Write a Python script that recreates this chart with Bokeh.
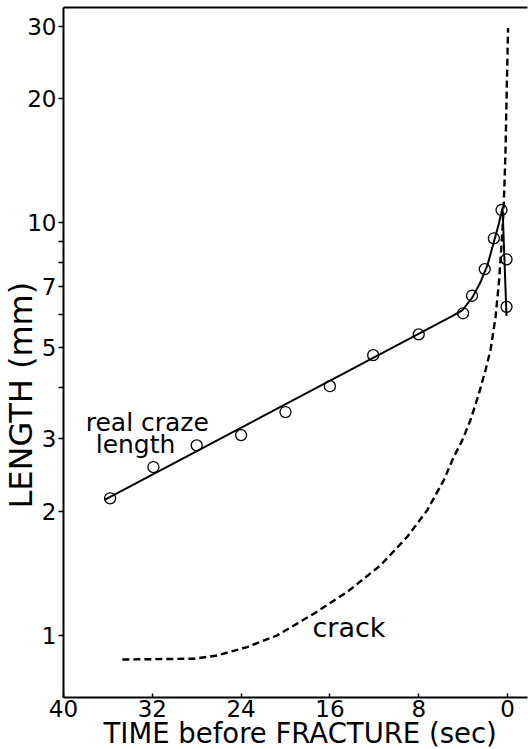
from bokeh.plotting import figure
from bokeh.models import Range1d, FixedTicker, LinearAxis, Label, Title
from bokeh.embed import file_html
from bokeh.resources import INLINE

# ---- data ----
time_pts = [35.8, 31.9, 28.0, 24.0, 20.0, 16.0, 12.1, 8.0, 4.0, 3.2, 2.05, 1.23, 0.54, 0.09, 0.09]
len_pts = [2.15, 2.56, 2.89, 3.06, 3.48, 4.02, 4.78, 5.37, 6.04, 6.66, 7.73, 9.18, 10.75, 8.16, 6.26]

fit_time = [36.3, 4.95, 4.05, 3.15, 2.43, 1.80, 1.26, 0.81, 0.45, 0.09]
fit_len = [2.13, 5.95, 6.15, 6.61, 7.19, 7.91, 8.94, 9.89, 10.9, 5.95]

crack_time = [34.7, 28.26, 26.15, 23.45, 20.75, 17.45, 14.44, 11.44, 9.04, 7.24, 5.74, 4.84,
              4.08, 3.33, 2.61, 1.98, 1.53, 1.08, 0.78, 0.57, 0.39, 0.27, 0.18, 0.09, -0.05]
crack_len = [0.874, 0.878, 0.894, 0.937, 1.0, 1.129, 1.274, 1.479, 1.733, 2.01, 2.38, 2.71,
             2.97, 3.33, 3.83, 4.40, 4.92, 5.91, 7.15, 8.60, 10.34, 12.5, 15.0, 19.9, 29.7]

x_ticks = [40, 32, 24, 16, 8, 0]
y_ticks = [1, 2, 3, 4, 5, 6, 7, 8, 9, 10, 20, 30]
y_tick_labels = {4: "", 6: "", 8: "", 9: ""}

ann_text = ["real craze", "length", "crack"]
ann_x = [38.0, 37.1, 17.57]
ann_y = [3.29, 2.90, 1.045]
ann_size = ["25px", "25px", "27px"]

x_title = "TIME  before FRACTURE (sec)"
y_title = "LENGTH (mm)"

FONT = "DejaVu Sans"

p = figure(width=528, height=749, y_axis_type="log",
           x_range=Range1d(40, -1.8), y_range=Range1d(0.707, 33.3),
           output_backend="svg", toolbar_location=None,
           min_border_left=63, min_border_right=1, min_border_top=7, min_border_bottom=52)
p.outline_line_color = None
p.grid.visible = False
p.background_fill_color = "white"
p.border_fill_color = "white"

# x axis
xa = p.xaxis[0]
xa.ticker = FixedTicker(ticks=x_ticks)
xa.axis_line_width = 2
xa.major_tick_in = 4
xa.major_tick_out = 0
xa.major_tick_line_width = 1.5
xa.minor_tick_line_color = None
xa.major_label_text_font = FONT
xa.major_label_text_font_size = "23px"
xa.major_label_text_color = "black"
xa.major_label_standoff = 2

# y axis
ya = p.yaxis[0]
ya.ticker = FixedTicker(ticks=y_ticks)
ya.major_label_overrides = y_tick_labels
ya.axis_line_width = 2
ya.major_tick_in = 0
ya.major_tick_out = 5
ya.major_tick_line_width = 1.5
ya.minor_tick_line_color = None
ya.major_label_text_font = FONT
ya.major_label_text_font_size = "23px"
ya.major_label_text_color = "black"
ya.major_label_standoff = 2

# top border as an axis without ticks
top = LinearAxis(ticker=FixedTicker(ticks=[]), axis_line_width=2,
                 major_tick_out=0, major_tick_in=0, major_label_standoff=0,
                 minor_tick_line_color=None, major_tick_line_color=None)
p.add_layout(top, "above")

# axis titles
p.add_layout(Title(text=x_title, align="left", offset=40, standoff=-5,
                   vertical_align="top", text_font=FONT, text_font_size="27.5px",
                   text_font_style="normal", text_color="black"), "below")
p.add_layout(Title(text=y_title, align="left", offset=189, standoff=-31,
                   vertical_align="bottom", text_font=FONT, text_font_size="32px",
                   text_font_style="normal", text_color="black"), "left")

# crack (dashed)
p.line(crack_time, crack_len, line_color="black", line_width=2.4, line_dash="7 4")
# real craze length fit
p.line(fit_time, fit_len, line_color="black", line_width=2)
# measured points
p.scatter(time_pts, len_pts, marker="circle", size=11, fill_color=None,
          line_color="black", line_width=1.3)

for t, xx, yy, fs in zip(ann_text, ann_x, ann_y, ann_size):
    p.add_layout(Label(x=xx, y=yy, text=t, text_font=FONT, text_font_size=fs,
                       text_color="black", text_align="left", text_baseline="alphabetic"))

open("out.html", "w").write(file_html(p, INLINE))
